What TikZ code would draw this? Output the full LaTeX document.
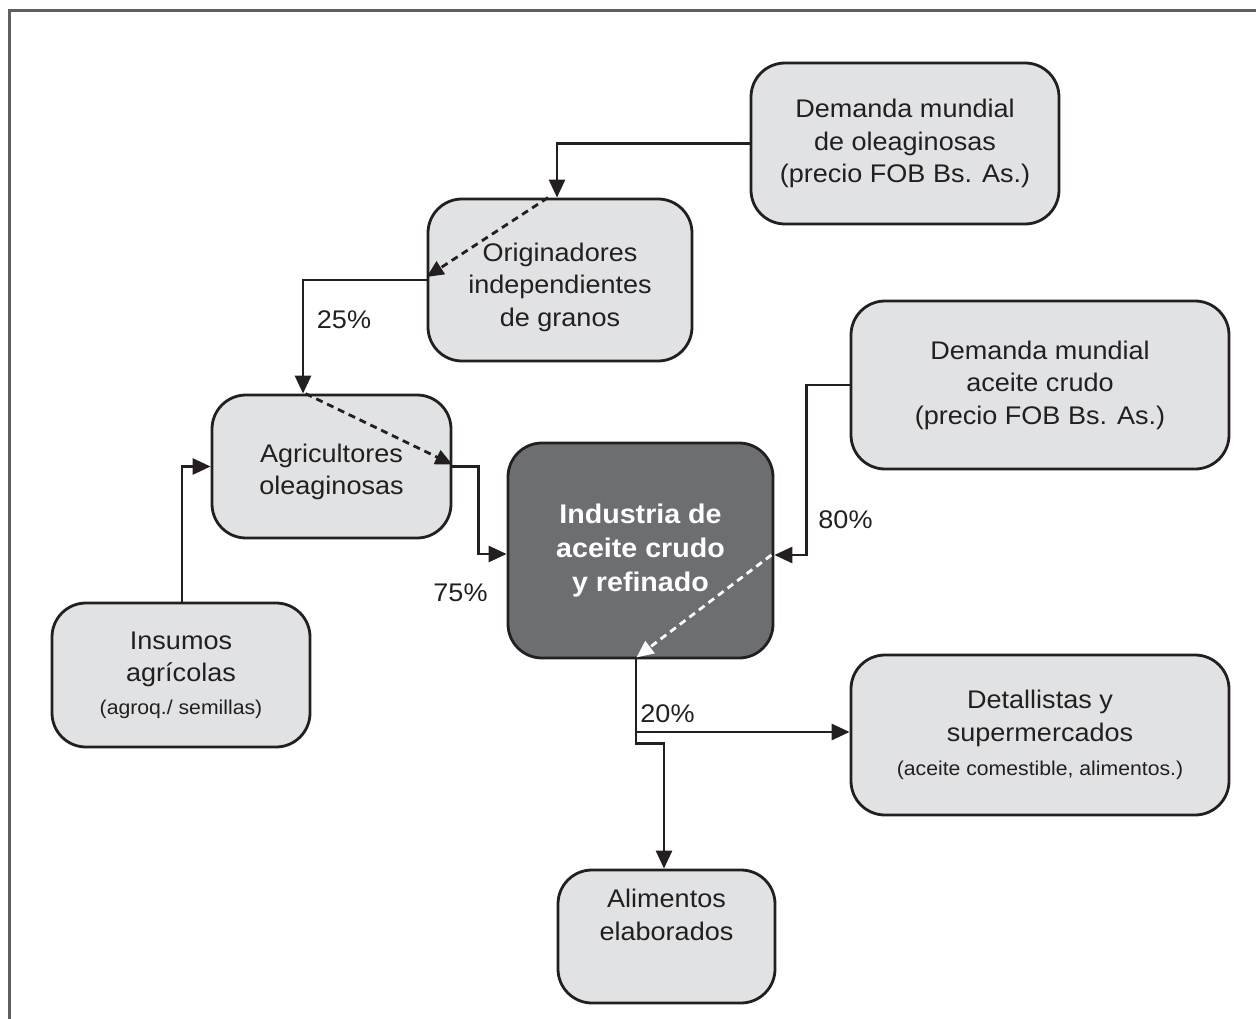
\documentclass[tikz,border=0pt]{standalone}
\usepackage{fontspec}
\setmainfont{Liberation Sans}[FakeStretch=1.06]
\usetikzlibrary{arrows.meta}
\definecolor{boxfill}{HTML}{E1E2E3}
\definecolor{boxline}{HTML}{231F20}
\definecolor{darkfill}{HTML}{6D6E71}
\definecolor{framecol}{HTML}{5F5F5F}
\tikzset{
  box/.style={draw=boxline, line width=2.8pt, fill=boxfill, rounded corners=34pt,
    inner sep=0pt, align=center, text=boxline,
    font=\fontsize{25.5}{32.5}\selectfont},
  darkbox/.style={box, fill=darkfill, text=white,
    font=\bfseries\fontsize{27}{34}\selectfont},
  boxtext/.style={align=center, text=boxline, inner sep=0pt,
    font=\fontsize{25.5}{32.5}\selectfont},
  conn/.style={draw=boxline, line width=2.8pt},
  arr/.style={conn, -{Triangle[length=18pt,width=16pt]}},
  darr/.style={conn, dash pattern=on 7pt off 5pt, -{Triangle[length=17pt,width=15pt]}},
  warr/.style={darr, draw=white, -{Triangle[length=17pt,width=15pt,fill=white]}},
  pct/.style={text=boxline, font=\fontsize{25.5}{32.5}\selectfont, inner sep=0pt}
}
\newcommand{\smalltxt}[1]{{\fontsize{20}{26}\selectfont #1}}
\begin{document}
\begin{tikzpicture}[x=1pt,y=-1pt]
\useasboundingbox (0,0) rectangle (1256,1019);
\draw[framecol, line width=3pt] (9.5,1019) -- (9.5,11) -- (1256,11);

\node[box, minimum width=308, minimum height=161] (dom) at (905,143.5)
  {Demanda mundial\\de oleaginosas\\(precio FOB Bs. As.)};
\node[box, minimum width=264, minimum height=162] (ori) at (560,280) {};
\node[boxtext] (orit) at (560,287) {Originadores\\independientes\\de granos};
\node[box, minimum width=239, minimum height=143] (agr) at (331.5,466.5) {};
\node[boxtext] (agrt) at (331.5,472) {Agricultores\\oleaginosas};
\node[darkbox, minimum width=265, minimum height=215] (ind) at (640.5,550.5)
  {Industria de\\aceite crudo\\y refinado};
\node[box, minimum width=378, minimum height=168] (dac) at (1040,385)
  {Demanda mundial\\aceite crudo\\(precio FOB Bs. As.)};
\node[box, minimum width=258, minimum height=144] (ins) at (181,675)
  {Insumos\\agrícolas\\\smalltxt{(agroq./ semillas)}};
\node[box, minimum width=378, minimum height=160] (det) at (1040,735)
  {Detallistas y\\supermercados\\[2pt]\smalltxt{(aceite comestible, alimentos.)}};
\node[box, minimum width=217, minimum height=133] (ali) at (666.5,936.5) {};
\node[boxtext] (alit) at (666.5,915) {Alimentos\\elaborados};

% connectors
\draw[arr] (dom.west) -| ([xshift=-3pt]ori.north);
\draw[darr] ([xshift=-12pt]ori.north) -- ([yshift=3pt]ori.west);
\draw[arr] (ori.west) -| ([xshift=-28.5pt]agr.north);
\draw[darr] ([xshift=-26pt]agr.north) -- ([yshift=2pt]agr.east);
\draw[arr] (agr.east) -- ++(26,0) |- ([yshift=-3.5pt]ind.west);
\draw[arr] ([xshift=1pt]ins.north) |- (agr.west);
\draw[arr] (dac.west) -- ++(-43,0) |- ([yshift=-4.5pt]ind.east);
\draw[warr] ([xshift=-3pt,yshift=-4.5pt]ind.east) -- ([xshift=-4pt,yshift=2pt]ind.south);
\draw[arr] ([xshift=-4.5pt]ind.south) |- ([yshift=3pt]det.west);
\draw[arr] ([xshift=-4.5pt]ind.south) -- ++(0,84) -- ++(28,0) -- ([xshift=-2.5pt]ali.north);

% labels
\node[pct] (p25) at (344,320) {25\%};
\node[pct] (p75) at (460.5,593) {75\%};
\node[pct] (p80) at (845.5,520) {80\%};
\node[pct] (p20) at (667.5,713.5) {20\%};
\end{tikzpicture}
\end{document}
